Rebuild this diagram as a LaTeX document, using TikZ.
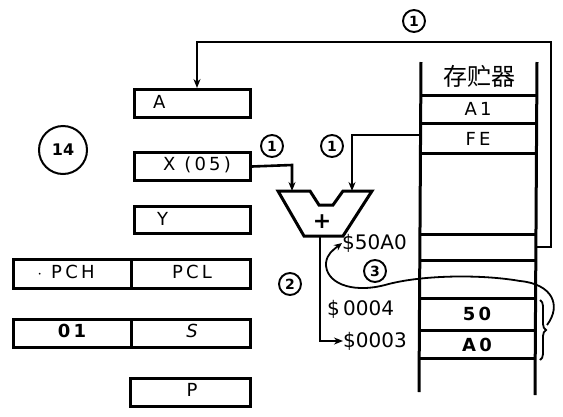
\documentclass[tikz,border=0pt]{standalone}
\usepackage{fontspec}
\setmainfont{DejaVu Sans}
\newfontfamily\cjk{Noto Sans CJK SC}
\usetikzlibrary{arrows.meta,decorations.pathreplacing}
\begin{document}
\begin{tikzpicture}[x=1pt,y=-1pt,
  reg/.style={draw,line width=3pt,anchor=north west,inner sep=0pt},
  lbl/.style={inner sep=0pt,font=\fontsize{18}{18}\selectfont\addfontfeature{LetterSpace=18}},
  addr/.style={inner sep=0pt,font=\fontsize{20}{20}\selectfont},
  num/.style={draw,circle,line width=1.9pt,inner sep=0pt,minimum size=22pt,font=\fontsize{14}{14}\selectfont\bfseries},
  wire/.style={line width=2.6pt},
  arr/.style={wire,-{Stealth[length=9pt,width=7pt]}}]
\useasboundingbox (0,0) rectangle (563,416);
% registers
\node[reg,minimum width=116pt,minimum height=28pt] (A) at (133,88) {};
\node[lbl,anchor=west] (At) at (153,102) {A};
\node[reg,minimum width=116pt,minimum height=28pt] (X) at (133,151) {};
\node[lbl] (Xt) at (197,165) {X (05)};
\node[reg,minimum width=116pt,minimum height=27pt] (Y) at (133,205) {};
\node[lbl,anchor=west] (Yt) at (157,219) {Y};
\node[reg,minimum width=118pt,minimum height=29pt] (PCH) at (12,258) {};
\node[reg,minimum width=119pt,minimum height=29pt] (PCL) at (130,258) {};
\node[lbl] (PCHt) at (66,272) {$\cdot$ PCH};
\node[lbl] (PCLt) at (192,272) {PCL};
\node[reg,minimum width=118pt,minimum height=28pt] (R01) at (12,318) {};
\node[reg,minimum width=119pt,minimum height=28pt] (S) at (130,318) {};
\node[lbl] (R01t) at (72,331) {\bfseries 01};
\node[lbl] (St) at (192,331) {\itshape S};
\node[reg,minimum width=120pt,minimum height=28pt] (P) at (129,377) {};
\node[lbl] (Pt) at (192,390) {P};
% 14 circle
\node[draw,circle,line width=2pt,minimum size=48pt,inner sep=0pt,font=\fontsize{16}{16}\selectfont\bfseries] (n14) at (63,150) {14};
% memory
\draw[line width=3pt] (421,62) -- (419,392);
\draw[line width=3pt] (537,62) -- (535,395);
\foreach \yy in {95,123,153,234,260,298,330,358}
  \draw[line width=3pt] (420,\yy) -- (536,\yy);
\node[inner sep=0pt,font=\cjk\fontsize{24}{24}\selectfont] (mh) at (479,76) {存贮器};
\node[lbl] (m1) at (478,109) {A1};
\node[lbl] (m2) at (478,139) {FE};
\node[lbl] (m3) at (477,314) {\bfseries 50};
\node[lbl] (m4) at (477,345) {\bfseries A0};
\coordinate (mFE) at (421,135);
\coordinate (m50A0) at (536,247);
% ALU
\draw[line width=3pt,line join=miter] (278,191) -- (310,191) -- (319,205) -- (333,205) -- (343,191) -- (372,191) -- (343,236) -- (304,236) -- cycle;
\node[inner sep=0pt,font=\fontsize{22}{22}\selectfont\bfseries] (plus) at (322,222) {+};
\coordinate (aluL) at (292,191);
\coordinate (aluR) at (352,191);
\coordinate (aluB) at (320,236);
% connectors
\draw[arr] (m50A0) -- (551,247) -- (551,42) -- (197,42) -- (A.north -| 197,88);
\draw[arr] (X.east) -- (292,165) -- (aluL);
\draw[arr] (mFE) -- (352,135) -- (aluR);
% labels
\node[num] (c1) at (414,21) {1};
\node[num] (c2) at (272,146) {1};
\node[num] (c3) at (332,146) {1};
\node[num] (c4) at (290,284) {2};
\node[num] (c5) at (375,271) {3};
\node[addr,anchor=west] (a50A0) at (342,243) {\$50A0};
\node[addr,anchor=west] (a4) at (327,309) {\$\,0004};
\node[addr,anchor=west] (a3) at (343,341) {\$0003};
\draw[arr] (aluB) |- (a3.west);
% curved arrow from bytes to address
\draw[line width=1.8pt,-{Stealth[length=8pt,width=7pt]}] (547,325) .. controls (562,305) and (552,284) .. (520,281) .. controls (480,274) and (420,275) .. (385,285) .. controls (350,294) and (325,282) .. (326,263) .. controls (327,254) and (333,250) .. (a50A0.west);
\draw[line width=1.8pt,decorate,decoration={brace,amplitude=6pt}] (540,300) -- (540,360);
\end{tikzpicture}
\end{document}
